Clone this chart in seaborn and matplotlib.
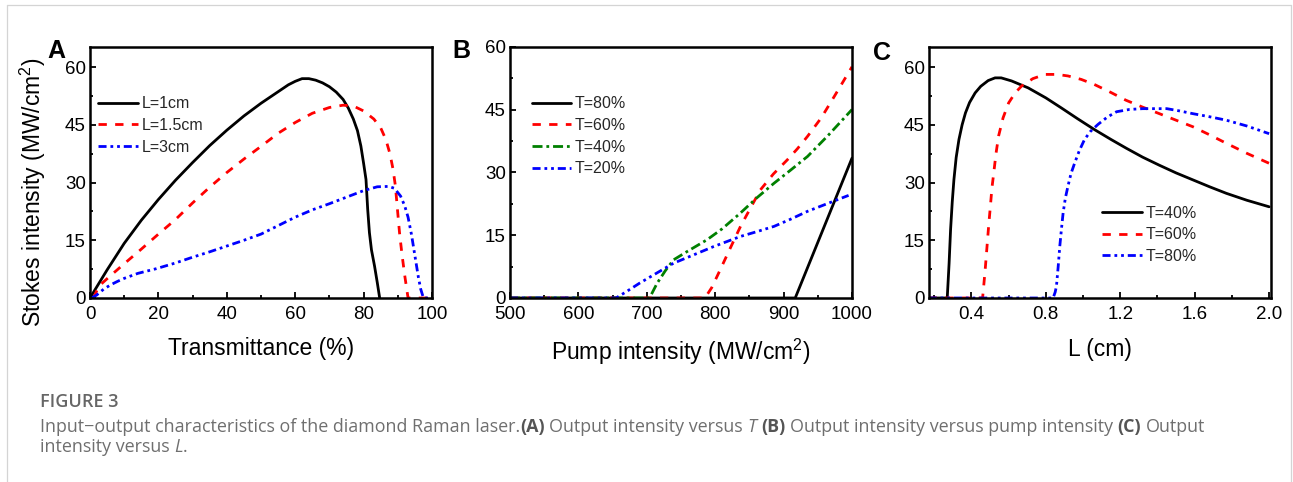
import numpy as np
import pandas as pd
import matplotlib
matplotlib.use("Agg")
import matplotlib.pyplot as plt
import seaborn as sns
from matplotlib.ticker import MultipleLocator, FormatStrFormatter
from matplotlib.lines import Line2D

# ---------------- data ----------------
# Panel A: Stokes intensity vs transmittance
a_L1_x = [0, 5, 10, 15, 20, 25, 30, 35, 40, 45, 50, 55, 58, 60, 62, 64, 66, 68, 70, 72, 74, 75.5, 77, 78.2, 79.2, 80, 80.7, 81.2, 81.7, 82.3, 83.2, 84, 84.7]
a_L1_y = [0, 7.3, 14.2, 20.2, 25.6, 30.6, 35.2, 39.6, 43.6, 47.3, 50.6, 53.6, 55.4, 56.3, 57.0, 57.0, 56.6, 55.9, 54.9, 53.5, 51.6, 49.4, 46.5, 43.5, 39.5, 35, 30.8, 23, 17, 12.5, 8.3, 4, 0]

a_L15_x = [1, 2.6, 6, 10, 15, 20, 25, 30, 35, 40, 45, 50, 55, 60, 65, 70, 74, 77, 80, 83, 85, 86.5, 87.7, 88.6, 89.3, 89.9, 90.5, 91.2, 92, 93, 100]
a_L15_y = [0, 3.1, 5.8, 8.9, 12.7, 16.6, 20.4, 24.7, 28.8, 32.6, 36.1, 39.4, 42.8, 45.6, 48.0, 49.5, 50.1, 49.9, 48.6, 46.5, 44.2, 41.2, 37.5, 33.5, 29.1, 23, 17, 11.5, 6.0, 0, 0]

a_L3_x = [0.5, 2, 4, 6, 8, 10, 14, 19.3, 25, 30, 35, 40, 45, 50, 55, 60, 65, 70, 75, 80, 84, 87.4, 89, 90.8, 92, 93, 94, 95, 96, 96.7, 97.5, 100]
a_L3_y = [0, 0.8, 2.3, 3.4, 4.3, 5.1, 6.4, 7.6, 9.1, 10.6, 12.0, 13.5, 15.0, 16.6, 18.8, 21.0, 22.9, 24.5, 26.2, 27.9, 28.9, 29.0, 28.5, 26.5, 24, 21, 16.5, 11, 5.5, 2.3, 0, 0]

# Panel B: Stokes intensity vs pump intensity
b_T80_x = [500, 917, 1000]
b_T80_y = [0, 0, 33.4]

b_T60_x = [500, 785, 795, 807.5, 820, 837, 850, 866, 885, 905.5, 920, 935, 955, 974, 1000]
b_T60_y = [0, 0, 2.5, 6.8, 11.2, 17.1, 21.0, 25.8, 29.6, 33.0, 35.6, 38.6, 43.0, 48.1, 55.2]

b_T40_x = [500, 704, 715, 727, 739, 760, 788, 810, 837, 860, 886, 910, 935, 965, 1000]
b_T40_y = [0, 0, 3.5, 6.5, 9.1, 11.2, 13.9, 16.5, 20.3, 23.8, 27.4, 30.5, 33.8, 38.8, 45.0]

b_T20_x = [500, 655, 670, 690, 715, 739, 770, 798, 837, 860, 886, 910, 935, 965, 995]
b_T20_y = [0, 0, 1.5, 3.6, 6.0, 8.3, 10.4, 12.3, 14.7, 15.8, 17.1, 18.8, 20.7, 22.6, 24.5]

# Panel C: Stokes intensity vs crystal length
c_T40_x = [0.17, 0.27, 0.28, 0.288, 0.297, 0.306, 0.318, 0.333, 0.35, 0.368, 0.39, 0.42, 0.45, 0.49, 0.527, 0.56, 0.616, 0.705, 0.8, 0.883, 0.97, 1.06, 1.15, 1.233, 1.32, 1.41, 1.5, 1.59, 1.68, 1.77, 1.88, 2.0]
c_T40_y = [0, 0, 9, 17.8, 25, 30.8, 36.5, 41.2, 45.0, 48.1, 50.8, 53.3, 55.0, 56.5, 57.2, 57.2, 56.4, 54.6, 52.0, 49.4, 46.6, 43.8, 41.2, 38.9, 36.6, 34.5, 32.5, 30.7, 28.9, 27.2, 25.4, 23.7]

c_T60_x = [0.17, 0.46, 0.466, 0.475, 0.484, 0.493, 0.502, 0.51, 0.52, 0.532, 0.546, 0.57, 0.6, 0.635, 0.67, 0.73, 0.795, 0.86, 0.919, 0.99, 1.06, 1.15, 1.23, 1.32, 1.41, 1.5, 1.59, 1.68, 1.77, 1.88, 2.0]
c_T60_y = [0, 0, 3.1, 8, 13.5, 19, 23.9, 28.5, 32.5, 37.5, 42.1, 46.8, 50.7, 53.3, 55.1, 57.0, 58.1, 58.1, 57.7, 56.8, 55.5, 53.4, 51.4, 49.6, 47.9, 46.2, 44.5, 42.4, 40.2, 37.6, 35.0]

c_T80_x = [0.17, 0.839, 0.85, 0.857, 0.866, 0.875, 0.884, 0.893, 0.905, 0.919, 0.935, 0.955, 0.98, 1.008, 1.04, 1.08, 1.13, 1.18, 1.25, 1.32, 1.45, 1.52, 1.59, 1.68, 1.77, 1.88, 2.0]
c_T80_y = [0, 0, 1.5, 3.1, 8, 13.5, 18, 22.2, 26, 29.1, 32.3, 35.1, 38.3, 41.2, 43.3, 45.1, 47.0, 48.4, 49.0, 49.2, 49.2, 48.6, 47.9, 47.1, 46.2, 44.7, 42.7]

# ---------------- style ----------------
sns.set_theme(style="ticks")
plt.rcParams["font.family"] = ["Liberation Sans", "DejaVu Sans"]
plt.rcParams.update({
    "mathtext.fontset": "custom",
    "mathtext.rm": "Liberation Sans",
    "mathtext.it": "Liberation Sans:italic",
    "mathtext.bf": "Liberation Sans:bold",
    "axes.edgecolor": "black",
    "xtick.color": "black",
    "ytick.color": "black",
    "axes.labelcolor": "black",
})

W, H = 1293, 482
fig = plt.figure(figsize=(W / 100, H / 100), dpi=100)
fig.patch.set_facecolor("white")

LW = 2.0
DASH = (3.0, 3.0)
DASHDOT = (3.6, 1.4, 1.0, 1.4)
DASHDOTDOT = (2.9, 1.4, 1.0, 1.4, 1.0, 1.4)


def ax_at(l, r, t, b):
    return fig.add_axes([l / W, 1 - b / H, (r - l) / W, (b - t) / H])


def draw(ax, x, y, color, dashes, label):
    df = pd.DataFrame({"x": x, "y": y})
    sns.lineplot(data=df, x="x", y="y", ax=ax, color=color, estimator=None,
                 sort=False, label=label, lw=LW, legend=False)
    line = ax.lines[-1]
    if dashes is not None:
        line.set_dashes(dashes)
    line.set_dash_capstyle("butt")
    line.set_solid_joinstyle("round")
    line.set_dash_joinstyle("round")


def style_ax(ax, xlim, ylim, xmaj, xmin, ymaj, ymin):
    ax.set_xlim(*xlim)
    ax.set_ylim(*ylim)
    ax.xaxis.set_major_locator(MultipleLocator(xmaj))
    ax.xaxis.set_minor_locator(MultipleLocator(xmin))
    ax.yaxis.set_major_locator(MultipleLocator(ymaj))
    ax.yaxis.set_minor_locator(MultipleLocator(ymin))
    ax.tick_params(which="both", direction="in", top=False, right=False,
                   labelsize=13.5, width=1.3)
    ax.tick_params(axis="x", pad=5.5)
    ax.tick_params(axis="y", pad=3)
    ax.tick_params(which="major", length=4.5)
    ax.tick_params(which="minor", length=2.5)
    for s in ax.spines.values():
        s.set_linewidth(1.8)
        s.set_color("black")
    ax.set_facecolor("white")
    ax.grid(False)


def legend(ax, x, y):
    ax.legend(loc="upper left", bbox_to_anchor=(x, y), frameon=False,
              fontsize=11.5, handlelength=2.5, handletextpad=0.2,
              labelspacing=0.42, borderpad=0, borderaxespad=0)


# Panel A
axA = ax_at(90, 432, 46.7, 298)
draw(axA, a_L1_x, a_L1_y, "black", None, "L=1cm")
draw(axA, a_L15_x, a_L15_y, "#ff0000", DASH, "L=1.5cm")
draw(axA, a_L3_x, a_L3_y, "#0000ff", DASHDOTDOT, "L=3cm")
style_ax(axA, (0, 100), (0, 65.3), 20, 10, 15, 7.5)
axA.set_xlabel("Transmittance (%)", fontsize=16.5)
axA.set_ylabel("Stokes intensity (MW/cm$^2$)", fontsize=16.5)
axA.xaxis.set_label_coords(0.5, -0.155)
axA.yaxis.set_label_coords(-0.124, 0.422)
legend(axA, 0.024, 0.803)

# Panel B
axB = ax_at(510, 852, 46.7, 298)
draw(axB, b_T80_x, b_T80_y, "black", None, "T=80%")
draw(axB, b_T60_x, b_T60_y, "#ff0000", DASH, "T=60%")
draw(axB, b_T40_x, b_T40_y, "#008000", DASHDOT, "T=40%")
draw(axB, b_T20_x, b_T20_y, "#0000ff", DASHDOTDOT, "T=20%")
style_ax(axB, (500, 1000), (0, 60), 100, 50, 15, 7.5)
axB.set_xlabel("Pump intensity (MW/cm$^2$)", fontsize=16.5)
axB.set_ylabel("")
axB.xaxis.set_label_coords(0.5, -0.155)
legend(axB, 0.063, 0.803)

# Panel C
axC = ax_at(929, 1271, 46.7, 298)
draw(axC, c_T40_x, c_T40_y, "black", None, "T=40%")
draw(axC, c_T60_x, c_T60_y, "#ff0000", DASH, "T=60%")
draw(axC, c_T80_x, c_T80_y, "#0000ff", DASHDOTDOT, "T=80%")
style_ax(axC, (0.172, 2.01), (0, 65.3), 0.4, 0.2, 15, 7.5)
axC.xaxis.set_major_formatter(FormatStrFormatter("%.1f"))
axC.set_xlabel("L (cm)", fontsize=16.5)
axC.set_ylabel("")
axC.xaxis.set_label_coords(0.5, -0.16)
legend(axC, 0.507, 0.368)

# panel letters
for lab, px, py in [("A", 56, 58.3), ("B", 461.5, 58), ("C", 881.5, 60)]:
    fig.text(px / W, 1 - py / H, lab, fontsize=18, fontweight="bold",
             ha="center", va="baseline", color="black")

# page frame
frame_c = "#d4d4d4"
fig.add_artist(Line2D([7 / W, 1291 / W], [1 - 5 / H, 1 - 5 / H], transform=fig.transFigure, color=frame_c, lw=0.9))
fig.add_artist(Line2D([7 / W, 7 / W], [1 - 5 / H, 0], transform=fig.transFigure, color=frame_c, lw=0.9))
fig.add_artist(Line2D([1291 / W, 1291 / W], [1 - 5 / H, 0], transform=fig.transFigure, color=frame_c, lw=0.9))

# caption
CAP_FONT = ["Open Sans", "DejaVu Sans"]
fig.text(40 / W, 1 - 406.7 / H, "FIGURE 3", fontsize=13, fontweight="semibold",
         family=CAP_FONT, color="#666666", ha="left", va="baseline")

renderer = fig.canvas.get_renderer()


def piece_width(s, size, weight="normal", style="normal"):
    t = fig.text(0, 0, s, fontsize=size, family=CAP_FONT, fontweight=weight, fontstyle=style)
    w = t.get_window_extent(renderer).width
    t.remove()
    return w


line1 = [("Input\u2212output characteristics of the diamond Raman laser.", "normal", "normal", 0),
         ("(A)", "bold", "normal", 0),
         ("Output intensity versus", "normal", "normal", 1),
         ("T", "normal", "italic", 1),
         ("(B)", "bold", "normal", 1),
         ("Output intensity versus pump intensity", "normal", "normal", 1),
         ("(C)", "bold", "normal", 1),
         ("Output", "normal", "normal", 1)]
line2 = [("intensity versus", "normal", "normal", 0),
         ("L", "normal", "italic", 1),
         (".", "normal", "normal", 0)]


def line_width(pieces, size):
    sp = piece_width("x x", size) - piece_width("xx", size)
    tot = 0
    for s, wt, st, gap in pieces:
        tot += gap * sp + piece_width(s, size, wt, st)
    return tot


base = 12.5
cap_size = base * (1175 / line_width(line1, base))


def draw_line(pieces, x0, yb, size):
    sp = piece_width("x x", size) - piece_width("xx", size)
    x = x0
    for s, wt, st, gap in pieces:
        x += gap * sp
        t = fig.text(x / W, 1 - yb / H, s, fontsize=size, family=CAP_FONT,
                     fontweight=wt, fontstyle=st,
                     color="#6f6f6f" if wt == "normal" else "#555555",
                     ha="left", va="baseline")
        x += t.get_window_extent(renderer).width


draw_line(line1, 40, 431.7, cap_size)
draw_line(line2, 40, 451.7, cap_size)

fig.savefig("out.png", dpi=100, facecolor="white")
